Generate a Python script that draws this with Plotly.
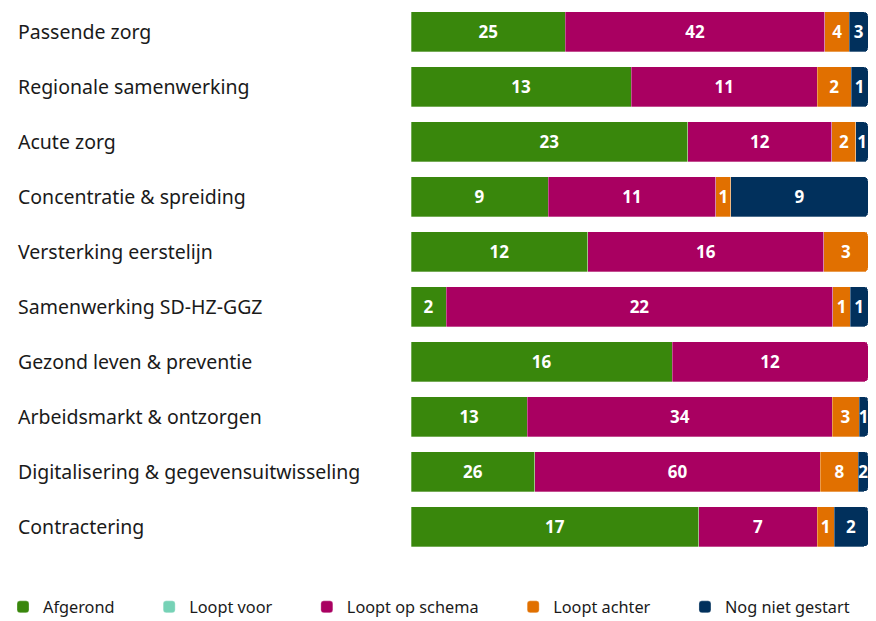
import plotly.graph_objects as go

categories = [
    "Passende zorg",
    "Regionale samenwerking",
    "Acute zorg",
    "Concentratie & spreiding",
    "Versterking eerstelijn",
    "Samenwerking SD-HZ-GGZ",
    "Gezond leven & preventie",
    "Arbeidsmarkt & ontzorgen",
    "Digitalisering & gegevensuitwisseling",
    "Contractering",
]

afgerond = [25, 13, 23, 9, 12, 2, 16, 13, 26, 17]
loopt_voor = [None] * 10
loopt_op_schema = [42, 11, 12, 11, 16, 22, 12, 34, 60, 7]
loopt_achter = [4, 2, 2, 1, 3, 1, None, 3, 8, 1]
nog_niet_gestart = [3, 1, 1, 9, None, 1, None, 1, 2, 2]

series_names = ["Afgerond", "Loopt voor", "Loopt op schema", "Loopt achter", "Nog niet gestart"]
series_values = [afgerond, loopt_voor, loopt_op_schema, loopt_achter, nog_niet_gestart]
series_colors = ["#39870c", "#76d2b6", "#a90061", "#e17000", "#01305c"]

W, H = 860, 613
PAD = "\u00a0" * 7

fig = go.Figure()
for i, (name, vals, color) in enumerate(zip(series_names, series_values, series_colors)):
    legend_name = name + (PAD if i < len(series_names) - 1 else "")
    fig.add_trace(go.Bar(
        y=categories,
        x=vals,
        name=legend_name,
        orientation="h",
        marker=dict(color=color, line=dict(color="rgba(255,255,255,0.6)", width=0.5)),
        text=[("" if v is None else str(v)) for v in vals],
        textposition="inside",
        insidetextanchor="middle",
        textangle=0,
        textfont=dict(color="white", size=17, family="Noto Sans", weight="bold"),
        hovertemplate="%{y}<br>" + name + ": %{text}<extra></extra>",
    ))

annotations = []
for c in categories:
    annotations.append(dict(
        x=8 / W, xref="paper", y=c, yref="y",
        text=c, showarrow=False, xanchor="left", yanchor="middle",
        font=dict(size=19.5, color="#1a1a1a", family="Noto Sans"),
    ))

fig.update_layout(
    width=W,
    height=H,
    barmode="stack",
    barnorm="percent",
    bargap=0.273,
    barcornerradius=4,
    plot_bgcolor="white",
    paper_bgcolor="white",
    margin=dict(l=0, r=0, t=0, b=66.5, autoexpand=False),
    xaxis=dict(domain=[403 / W, 1], visible=False, range=[0, 100], fixedrange=True),
    yaxis=dict(visible=False, range=[9.5, -0.436], fixedrange=True),
    uniformtext=dict(minsize=17, mode="show"),
    showlegend=True,
    legend=dict(
        orientation="h", x=-0.0058, xanchor="left", y=-0.0655, yanchor="top",
        font=dict(size=16.3, color="#1a1a1a", family="Noto Sans"),
        itemwidth=30, traceorder="normal",
    ),
    annotations=annotations,
)

fig.write_html("out.html")
